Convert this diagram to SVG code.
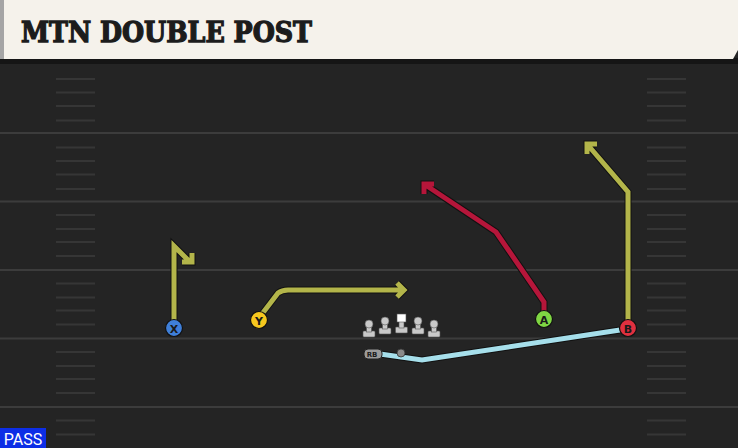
<svg xmlns="http://www.w3.org/2000/svg" width="738" height="448" viewBox="0 0 738 448">
<style>
.yl{stroke:#3c3c3c;stroke-width:2}
.hm{stroke:#363636;stroke-width:2}
.out{fill:none;stroke:#111;stroke-width:7;stroke-linejoin:miter;stroke-linecap:butt}
.rt{fill:none;stroke-width:5;stroke-linejoin:miter;stroke-linecap:butt}
.olive{stroke:#b3b54a}
.red{stroke:#b5163a}
.blue{stroke:#a6dfeb}
.lbl{font-family:"DejaVu Sans","Liberation Sans",sans-serif;font-weight:bold;text-anchor:middle;fill:#1a1a1a}
.ol{fill:#c9c9c9;stroke:#555;stroke-width:0.6}
</style>
<rect x="0" y="0" width="738" height="448" fill="#242424"/>
<g id="field">
<line class="yl" x1="0" y1="133" x2="738" y2="133"/>
<line class="yl" x1="0" y1="201.5" x2="738" y2="201.5"/>
<line class="yl" x1="0" y1="270" x2="738" y2="270"/>
<line class="yl" x1="0" y1="338.5" x2="738" y2="338.5"/>
<line class="yl" x1="0" y1="407" x2="738" y2="407"/>
<g id="hashes">
<path class="hm" d="M56 79H95M56 92.5H95M56 106H95M56 120.5H95M56 147.5H95M56 161H95M56 174.5H95M56 189H95M56 215H95M56 229H95M56 242H95M56 256H95M56 283.5H95M56 297.5H95M56 310.5H95M56 324.5H95M56 352H95M56 366H95M56 379H95M56 393H95M56 420.5H95M56 434.5H95"/>
<path class="hm" d="M647 79H686M647 92.5H686M647 106H686M647 120.5H686M647 147.5H686M647 161H686M647 174.5H686M647 189H686M647 215H686M647 229H686M647 242H686M647 256H686M647 283.5H686M647 297.5H686M647 310.5H686M647 324.5H686M647 352H686M647 366H686M647 379H686M647 393H686M647 420.5H686M647 434.5H686"/>
</g>
</g>
<g id="header">
<rect x="0" y="58" width="738" height="6" fill="#151515"/>
<polygon points="0,0 738,0 738,50 733,59 0,59" fill="#f5f2eb"/>
<rect x="0" y="0" width="4" height="59" fill="#a5a5a5"/>
<text x="21" y="42" font-family="DejaVu Serif" font-weight="bold" font-size="27" textLength="291" lengthAdjust="spacingAndGlyphs" fill="#1c1c1c" stroke="#1c1c1c" stroke-width="1.3">MTN DOUBLE POST</text>
</g>
<g id="connectors">
<g id="route-rb">
<path class="out" d="M380 354 L422 360 L620 330"/>
<path class="rt blue" d="M380 354 L422 360 L620 330"/>
</g>
<g id="route-x">
<path class="out" d="M174 322 V246 L190 262 M182 262 H192 V253"/>
<path class="rt olive" d="M174 322 V246 L190 262 M182 262 H192 V253"/>
</g>
<g id="route-y">
<path class="out" d="M262 314 L278 293 Q282 290 288 290 H404 M397 283 L404 290 L397 297"/>
<path class="rt olive" d="M262 314 L278 293 Q282 290 288 290 H404 M397 283 L404 290 L397 297"/>
</g>
<g id="route-a">
<path class="out" d="M544 312 V302 L496 232 L424 184 M424 194 V184 H434"/>
<path class="rt red" d="M544 312 V302 L496 232 L424 184 M424 194 V184 H434"/>
</g>
<g id="route-b">
<path class="out" d="M628 321 V192 L587 144 M587 154 V144 H597"/>
<path class="rt olive" d="M628 321 V192 L587 144 M587 154 V144 H597"/>
</g>
</g>
<g id="line">
<g id="ol1"><rect class="ol" x="363" y="331" width="12" height="6" rx="1"/><rect class="ol" x="366.5" y="324" width="5" height="8"/><circle class="ol" cx="369" cy="324" r="4"/></g>
<g id="ol2"><rect class="ol" x="379" y="328" width="12" height="6" rx="1"/><rect class="ol" x="382.5" y="321" width="5" height="8"/><circle class="ol" cx="385" cy="321" r="4"/></g>
<g id="center"><rect class="ol" x="395.5" y="327" width="12" height="6" rx="1"/><rect class="ol" x="399" y="321" width="5" height="7"/><rect x="397" y="314" width="9" height="8" fill="#ffffff" stroke="#555" stroke-width="0.6"/></g>
<g id="ol4"><rect class="ol" x="412" y="328" width="12" height="6" rx="1"/><rect class="ol" x="415.5" y="321" width="5" height="8"/><circle class="ol" cx="418" cy="321" r="4"/></g>
<g id="ol5"><rect class="ol" x="428" y="331" width="12" height="6" rx="1"/><rect class="ol" x="431.5" y="324" width="5" height="8"/><circle class="ol" cx="434" cy="324" r="4"/></g>
</g>
<g id="qb"><circle cx="401" cy="353" r="4" fill="#8a8a8a" stroke="#333" stroke-width="0.8"/></g>
<g id="rb"><rect x="364" y="349" width="18" height="10" rx="4" fill="#9b9b9b" stroke="#222" stroke-width="1"/><text class="lbl" x="372" y="357" font-size="7" font-weight="normal">RB</text></g>
<g id="x"><circle cx="174" cy="328" r="8.5" fill="#3f7fd9" stroke="#111" stroke-width="1.2"/><text class="lbl" x="174" y="332.5" font-size="11">X</text></g>
<g id="y"><circle cx="259" cy="320" r="8.5" fill="#f7c81e" stroke="#111" stroke-width="1.2"/><text class="lbl" x="259" y="324.5" font-size="11">Y</text></g>
<g id="a"><circle cx="544" cy="319" r="8.5" fill="#7fd643" stroke="#111" stroke-width="1.2"/><text class="lbl" x="544" y="323.5" font-size="11">A</text></g>
<g id="b"><circle cx="628" cy="328" r="8.5" fill="#e0303f" stroke="#111" stroke-width="1.2"/><text class="lbl" x="628" y="332.5" font-size="11">B</text></g>
<g id="pass"><rect x="0" y="428" width="46" height="20" fill="#0d2ee6"/><text x="23" y="444.5" font-family="Roboto,'Liberation Sans',sans-serif" font-size="16" text-anchor="middle" fill="#ffffff">PASS</text></g>
</svg>
